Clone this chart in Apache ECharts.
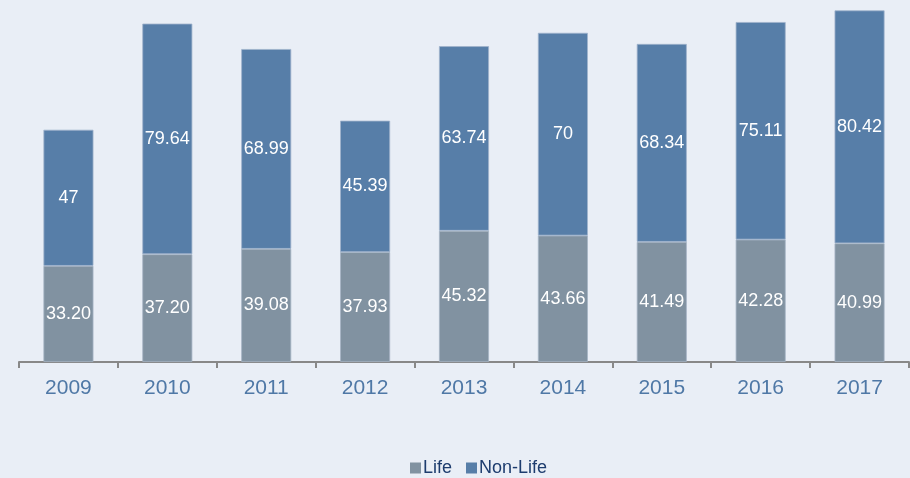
<!DOCTYPE html>
<html>
<head>
<meta charset="utf-8">
<script src="https://cdn.jsdelivr.net/npm/echarts@6/dist/echarts.min.js"></script>
<style>
html,body{margin:0;padding:0;background:#e9eef6;}
#chart{width:910px;height:478px;}
</style>
</head>
<body>
<div id="chart"></div>
<script>
var years = ['2009','2010','2011','2012','2013','2014','2015','2016','2017'];
var lifeValues = [33.20, 37.20, 39.08, 37.93, 45.32, 43.66, 41.49, 42.28, 40.99];
var lifeLabels = ['33.20','37.20','39.08','37.93','45.32','43.66','41.49','42.28','40.99'];
var nonLifeValues = [47, 79.64, 68.99, 45.39, 63.74, 70, 68.34, 75.11, 80.42];
var nonLifeLabels = ['47','79.64','68.99','45.39','63.74','70','68.34','75.11','80.42'];

var chart = echarts.init(document.getElementById('chart'), null, {renderer:'canvas'});
var FONT = 'Liberation Sans, Arial, sans-serif';
var labelStyle = {show:true, position:'inside', color:'#ffffff', fontSize:18, fontFamily:FONT};
chart.setOption({
  backgroundColor:'#e9eef6',
  animation:false,
  grid:{left:19, right:1, top:0, height:362},
  legend:{
    top:454, left:405,
    itemWidth:11, itemHeight:11, itemGap:14,
    icon:'rect',
    itemStyle:{borderWidth:0},
    textStyle:{color:'#1d3c6e', fontSize:18, fontFamily:FONT, padding:[0,0,0,-3]},
    data:['Life','Non-Life']
  },
  xAxis:{
    type:'category', data:years,
    axisLine:{lineStyle:{color:'#888888', width:2}},
    axisTick:{show:true, length:6, lineStyle:{color:'#888888', width:2}},
    axisLabel:{color:'#4f78a6', fontSize:21, margin:16, fontFamily:FONT}
  },
  yAxis:{type:'value', min:0, max:125, show:false, splitLine:{show:false}},
  series:[
    {name:'Life', type:'bar', stack:'t', barWidth:50, data:lifeValues,
     itemStyle:{color:'#8192a1', borderColor:'#a6b4c4', borderWidth:0.8},
     label:Object.assign({}, labelStyle, {formatter:function(p){return lifeLabels[p.dataIndex];}})},
    {name:'Non-Life', type:'bar', stack:'t', barWidth:50, data:nonLifeValues,
     itemStyle:{color:'#577ea8', borderColor:'#9fb3cc', borderWidth:0.8},
     label:Object.assign({}, labelStyle, {formatter:function(p){return nonLifeLabels[p.dataIndex];}})}
  ]
});
</script>
</body>
</html>
